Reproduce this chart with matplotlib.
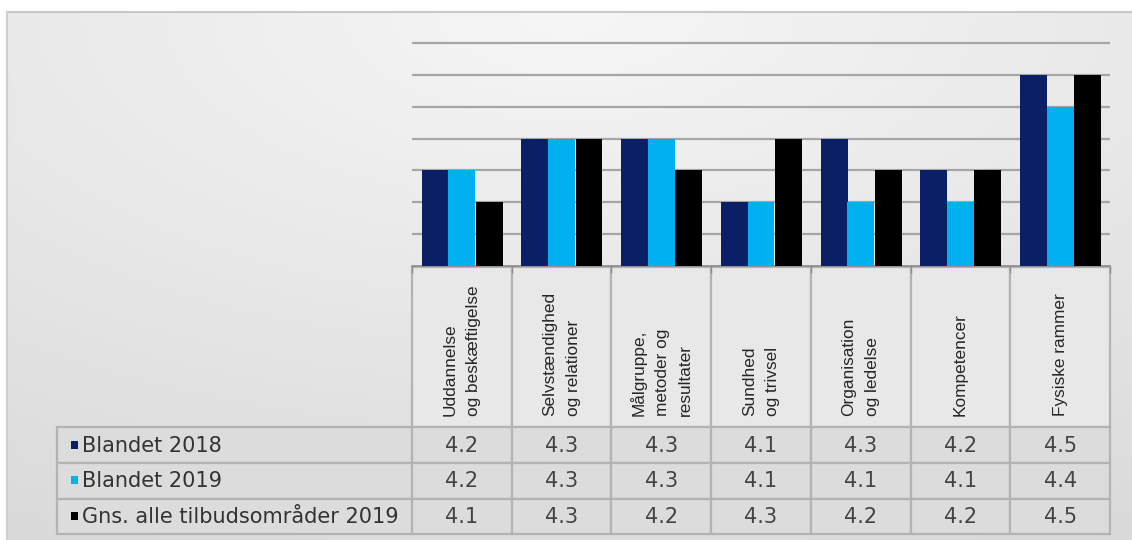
import numpy as np
import matplotlib
matplotlib.use('Agg')
import matplotlib.pyplot as plt
from matplotlib.patches import Rectangle

# ---------------- data ----------------
categories = ["Uddannelse\nog beskæftigelse", "Selvstændighed\nog relationer",
              "Målgruppe,\nmetoder og\nresultater", "Sundhed\nog trivsel",
              "Organisation\nog ledelse", "Kompetencer", "Fysiske rammer"]
series_names = ["Blandet 2018", "Blandet 2019", "Gns. alle tilbudsområder 2019"]
blandet_2018 = [4.2, 4.3, 4.3, 4.1, 4.3, 4.2, 4.5]
blandet_2019 = [4.2, 4.3, 4.3, 4.1, 4.1, 4.1, 4.4]
gns_2019 = [4.1, 4.3, 4.2, 4.3, 4.2, 4.2, 4.5]
grid_values = [4.0, 4.1, 4.2, 4.3, 4.4, 4.5, 4.6]
y_min, y_top = 3.9, 4.61

colors = ['#0b1f66', '#00b0f0', '#000000']
series = [blandet_2018, blandet_2019, gns_2019]

# ---------------- figure ----------------
W, H = 1132, 540
fig = plt.figure(figsize=(W / 100, H / 100), dpi=100)

bg = fig.add_axes([0, 0, 1, 1], zorder=0)
bg.set_xlim(0, W)
bg.set_ylim(H, 0)
bg.axis('off')

# background gradient panel
xx, yy = np.meshgrid(np.linspace(0, 1, 400), np.linspace(0, 1, 200))
d = np.sqrt((xx - 0.5) ** 2 + (yy * 1.0) ** 2)
v = 0.965 - 0.10 * d
img = np.dstack([v, v, v])
bg.imshow(img, extent=[7, W, H, 12], aspect='auto', zorder=0, interpolation='bilinear')
bg.plot([7, W], [12, 12], color='#c8c8c8', lw=1.5, zorder=1)
bg.plot([7, 7], [12, H], color='#cfcfcf', lw=1.5, zorder=1)

# ---------------- bar chart ----------------
L, R, B = 412, 1110, 266
px_per_unit = (B - 43) / (4.6 - y_min)
T = B - (y_top - y_min) * px_per_unit
ax = fig.add_axes([L / W, 1 - B / H, (R - L) / W, (B - T) / H], zorder=1)
ax.patch.set_alpha(0)
x = np.arange(len(categories))
width = 0.27
offsets = [-0.267, 0.0, 0.275]
for vals, c, off in zip(series, colors, offsets):
    ax.bar(x + off, vals, width, color=c, lw=0, zorder=3)
ax.set_xlim(-0.5, len(categories) - 0.5)
ax.set_ylim(y_min, y_top)
ax.set_yticks(grid_values)
ax.tick_params(axis='y', length=0, labelleft=False)
ax.yaxis.grid(True, color='#a6a6a6', lw=1.6)
ax.set_axisbelow(True)
ax.set_xticks(np.arange(-0.5, len(categories), 1.0))
ax.tick_params(axis='x', length=5, width=1, color='#8c8c8c', labelbottom=False, direction='out')
for s in ['left', 'right', 'top']:
    ax.spines[s].set_visible(False)
ax.spines['bottom'].set_color('#8c8c8c')
ax.spines['bottom'].set_linewidth(1.2)

# ---------------- data table ----------------
cw = (R - L) / len(categories)
hdr_top, hdr_bot = 267, 427
row_edges = [427, 463, 498.5, 534]
lab_left = 57
edge = '#b3b3b3'

for i, cat in enumerate(categories):
    x0 = L + i * cw
    bg.add_patch(Rectangle((x0, hdr_top), cw, hdr_bot - hdr_top, fc='#e8e8e8',
                           ec=edge, lw=1.6, zorder=2))
    bg.text(x0 + cw / 2, 416, cat, rotation=90, ha='center', va='bottom',
            multialignment='left', fontsize=12.4, family='Liberation Sans',
            color='#262626', linespacing=1.7, zorder=3)

for r, (name, vals, c) in enumerate(zip(series_names, series, colors)):
    y0, y1 = row_edges[r], row_edges[r + 1]
    ym = (y0 + y1) / 2
    bg.add_patch(Rectangle((lab_left, y0), L - lab_left, y1 - y0, fc='#dcdcdc',
                           ec=edge, lw=1.6, zorder=2))
    bg.add_patch(Rectangle((70.5, ym - 4.5), 7.5, 8, fc=c, ec='none', zorder=3))
    bg.text(81.5, ym + 0.5, name, ha='left', va='center', fontsize=15,
            family='DejaVu Sans', color='#333333', zorder=3)
    for i, val in enumerate(vals):
        x0 = L + i * cw
        bg.add_patch(Rectangle((x0, y0), cw, y1 - y0, fc='#dcdcdc',
                               ec=edge, lw=1.6, zorder=2))
        bg.text(x0 + cw / 2, ym + 0.5, f"{val:.1f}", ha='center', va='center',
                fontsize=15, family='DejaVu Sans', color='#444444', zorder=3)

fig.savefig('out.png', dpi=100)
